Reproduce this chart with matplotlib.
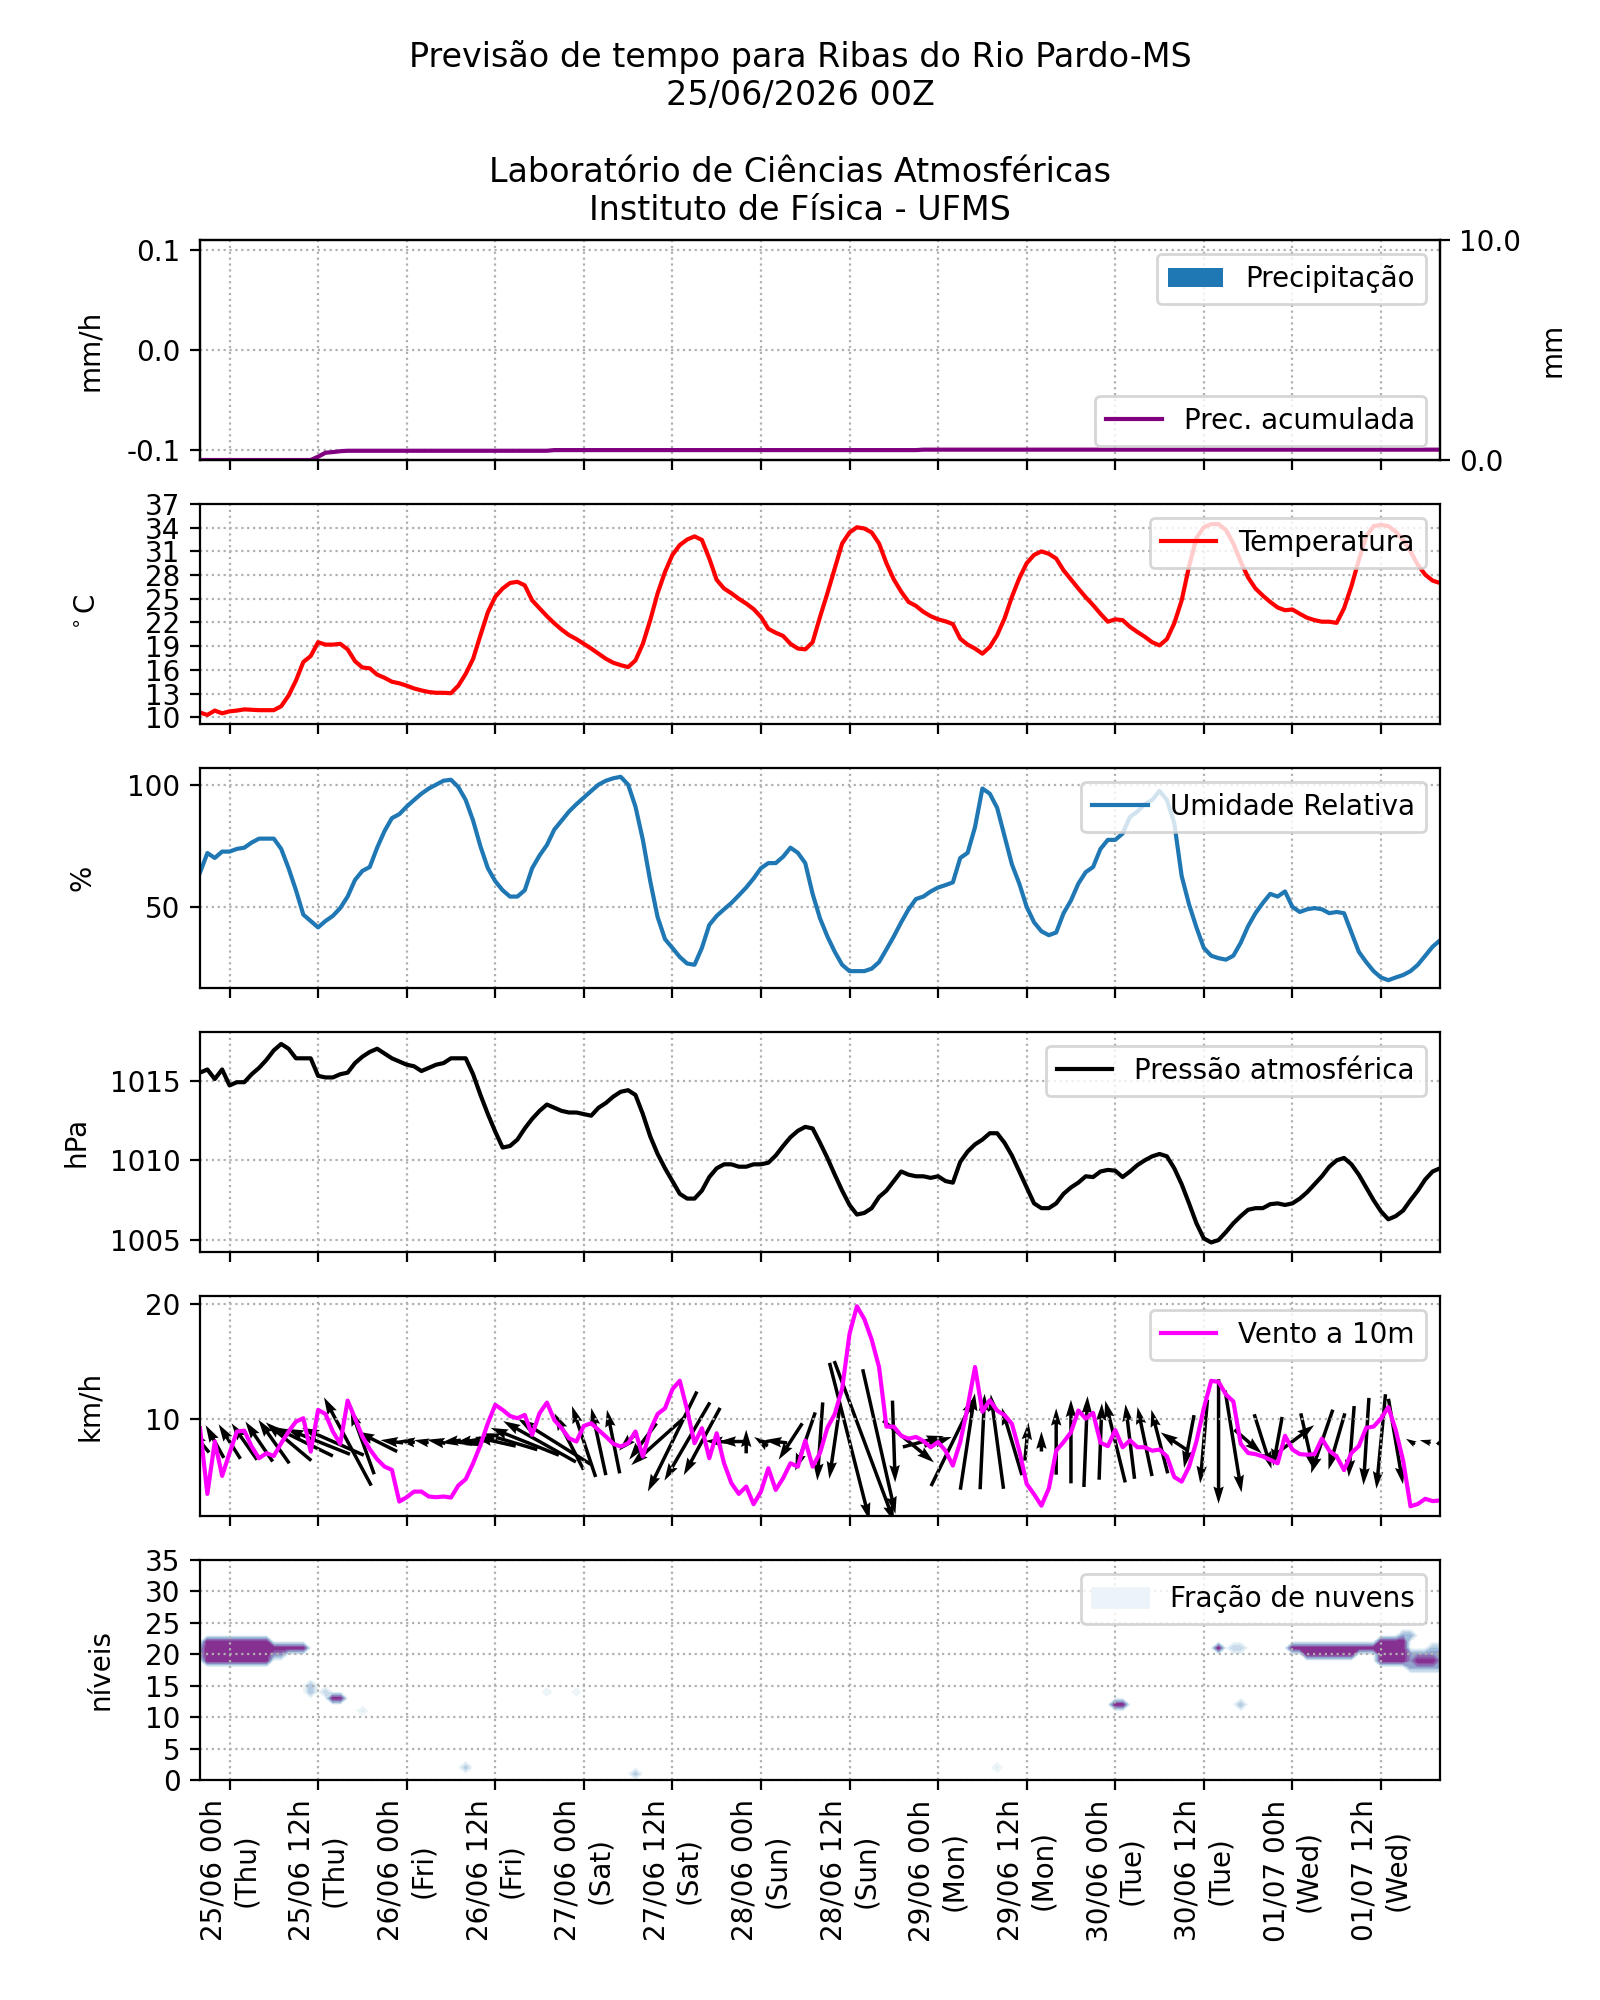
import matplotlib
matplotlib.use("Agg")
import matplotlib.pyplot as plt
import matplotlib.dates as mdates
from matplotlib.patches import Patch
import numpy as np
from datetime import datetime, timedelta

plt.rcParams['axes.unicode_minus'] = False

# ---------------- data (hourly, from 24/06 20h local) ----------------
start = datetime(2026, 6, 24, 20)
n_hours = 169

temperatura = [
    10.6, 10.3, 10.85, 10.5, 10.75, 10.85, 11.0, 10.95, 10.9, 10.9,
    10.9, 11.4, 12.75, 14.65, 17.0, 17.75, 19.5, 19.2, 19.2, 19.3,
    18.6, 17.1, 16.3, 16.2, 15.4, 15.0, 14.5, 14.3, 14.0, 13.65,
    13.4, 13.2, 13.1, 13.1, 13.05, 14.0, 15.5, 17.4, 20.4, 23.3,
    25.25, 26.3, 27.0, 27.15, 26.7, 24.8, 23.8, 22.8, 21.9, 21.1,
    20.4, 19.9, 19.3, 18.7, 18.05, 17.4, 16.9, 16.6, 16.35, 17.2,
    19.3, 22.3, 25.7, 28.4, 30.55, 31.8, 32.5, 32.9, 32.45, 30.1,
    27.4, 26.3, 25.7, 25.0, 24.4, 23.7, 22.7, 21.2, 20.7, 20.3,
    19.3, 18.7, 18.6, 19.5, 22.7, 25.7, 28.85, 32.0, 33.4, 34.05,
    33.9, 33.4, 32.0, 29.5, 27.45, 25.9, 24.6, 24.1, 23.35, 22.8,
    22.4, 22.15, 21.8, 19.95, 19.2, 18.7, 18.05, 18.9, 20.4, 22.5,
    25.25, 27.6, 29.5, 30.55, 31.0, 30.7, 30.1, 28.6, 27.45, 26.3,
    25.2, 24.2, 23.1, 22.1, 22.4, 22.3, 21.45, 20.8, 20.2, 19.5,
    19.1, 19.9, 21.9, 24.8, 29.1, 32.7, 34.05, 34.45, 34.45, 33.7,
    32.0, 29.7, 27.7, 26.3, 25.4, 24.6, 23.9, 23.55, 23.65, 23.1,
    22.6, 22.3, 22.1, 22.1, 21.95, 23.8, 26.6, 29.9, 32.9, 34.2,
    34.35, 34.2, 33.5, 32.45, 31.0, 29.3, 28.05, 27.3, 27.0]

umidade = [
    64, 72, 70, 72.6, 72.6, 73.7, 74.2, 76.3, 77.9, 77.9,
    77.9, 73.7, 65.8, 56.8, 46.8, 44.2, 41.6, 44.2, 46.3, 49.5,
    54.2, 61, 64.7, 66.3, 74.2, 81, 86.3, 87.9, 91, 93.7,
    96.3, 98.4, 100, 101.6, 102, 99, 93.7, 85.3, 74.7, 65.8,
    60.5, 56.8, 54.2, 54.2, 56.8, 65.8, 71, 75.3, 81.6, 85.3,
    89, 92, 94.7, 97.4, 100, 101.6, 102.6, 103.2, 100, 91,
    77.4, 60.5, 45.8, 36.8, 33.2, 29.5, 26.8, 26.3, 33.2, 42.6,
    46.3, 49, 51.6, 54.7, 57.9, 61.6, 65.8, 67.9, 67.9, 70.5,
    74.2, 72.1, 67.9, 55.3, 45.3, 37.9, 31.6, 26.3, 23.7, 23.7,
    23.7, 24.7, 27.4, 32.6, 37.9, 43.7, 49, 53.2, 54.2, 56.3,
    57.9, 58.9, 60, 70, 72.1, 82.6, 98.4, 96.3, 90.5, 79,
    67.4, 59.5, 50, 43.7, 40, 38.4, 39.5, 47.4, 52.6, 59.5,
    64.2, 66.3, 73.7, 77.4, 77.4, 80, 86.8, 89, 92, 93.7,
    97.4, 93.7, 84.2, 62.6, 51, 41.6, 33.2, 30, 29, 28.4,
    30, 35.3, 42.1, 47.4, 51.6, 55.3, 54.2, 56.3, 50, 47.9,
    49, 49.5, 49, 47.4, 47.9, 47.4, 39.5, 31.6, 27.4, 23.7,
    21.1, 20, 21.1, 22.1, 23.7, 26.3, 30, 33.7, 36.3]

pressao = [
    1015.5, 1015.7, 1015.1, 1015.7, 1014.7, 1014.9, 1014.9, 1015.4, 1015.8, 1016.3,
    1016.9, 1017.3, 1017.0, 1016.4, 1016.4, 1016.4, 1015.3, 1015.2, 1015.2, 1015.4,
    1015.5, 1016.1, 1016.5, 1016.8, 1017.0, 1016.7, 1016.4, 1016.2, 1016.0, 1015.9,
    1015.6, 1015.8, 1016.0, 1016.1, 1016.4, 1016.4, 1016.4, 1015.4, 1014.1, 1012.9,
    1011.8, 1010.8, 1010.9, 1011.3, 1012.0, 1012.6, 1013.1, 1013.5, 1013.3, 1013.1,
    1013.0, 1013.0, 1012.9, 1012.8, 1013.3, 1013.6, 1014.0, 1014.3, 1014.4, 1014.1,
    1012.9, 1011.5, 1010.4, 1009.5, 1008.7, 1007.9, 1007.6, 1007.6, 1008.1, 1008.95,
    1009.5, 1009.75, 1009.75, 1009.6, 1009.6, 1009.75, 1009.75, 1009.85, 1010.3, 1010.9,
    1011.45, 1011.85, 1012.1, 1012.0, 1011.1, 1010.15, 1009.1, 1008.1, 1007.2, 1006.6,
    1006.7, 1007.0, 1007.7, 1008.1, 1008.7, 1009.3, 1009.1, 1009.0, 1009.0, 1008.9,
    1009.0, 1008.7, 1008.6, 1009.9, 1010.55, 1011.0, 1011.3, 1011.7, 1011.7, 1011.1,
    1010.3, 1009.3, 1008.3, 1007.3, 1007.0, 1007.0, 1007.3, 1007.9, 1008.3, 1008.6,
    1009.0, 1008.95, 1009.3, 1009.4, 1009.35, 1008.95, 1009.3, 1009.7, 1010.0, 1010.25,
    1010.4, 1010.25, 1009.5, 1008.5, 1007.3, 1006.05, 1005.1, 1004.85, 1005.0, 1005.5,
    1006.05, 1006.5, 1006.9, 1007.0, 1007.0, 1007.25, 1007.3, 1007.2, 1007.3, 1007.6,
    1008.0, 1008.5, 1009.0, 1009.6, 1010.0, 1010.15, 1009.75, 1009.1, 1008.3, 1007.5,
    1006.8, 1006.3, 1006.5, 1006.85, 1007.5, 1008.1, 1008.8, 1009.3, 1009.5]

vento = [
    9.16, 3.43, 8.0, 5.0, 7.0, 8.87, 8.95, 7.56, 6.54, 6.98,
    6.74, 7.85, 8.87, 9.74, 10.03, 7.12, 10.76, 10.4, 8.87, 7.8,
    11.57, 10.03, 8.43, 7.33, 6.45, 5.81, 5.52, 2.76, 3.14, 3.63,
    3.63, 3.2, 3.14, 3.2, 3.11, 4.16, 4.71, 6.1, 7.7, 9.6,
    11.2, 10.76, 10.23, 10.03, 10.32, 8.58, 10.47, 11.4, 9.88, 9.16,
    8.28, 8.0, 9.36, 9.6, 9.0, 8.43, 7.8, 7.56, 7.85, 8.87,
    6.69, 9.0, 10.4, 10.9, 12.56, 13.3, 10.76, 7.85, 9.16, 6.54,
    8.72, 6.1, 4.36, 3.43, 4.07, 2.53, 3.63, 5.67, 3.78, 4.8,
    6.1, 5.81, 8.08, 5.81, 7.0, 9.2, 10.4, 12.6, 17.4, 19.8,
    18.7, 16.9, 14.5, 9.3, 9.3, 8.5, 8.25, 8.4, 8.05, 7.5,
    7.95, 7.2, 5.9, 7.95, 11.0, 14.5, 10.6, 11.6, 10.7, 10.3,
    9.55, 7.2, 4.3, 3.4, 2.4, 3.9, 7.2, 7.95, 8.8, 10.7,
    10.0, 10.5, 7.9, 7.6, 9.0, 7.5, 8.1, 7.5, 7.5, 7.2,
    7.3, 6.7, 4.9, 4.5, 5.8, 8.0, 10.9, 13.3, 13.2, 12.1,
    11.5, 7.8, 7.0, 6.9, 6.7, 6.4, 6.1, 8.5, 7.3, 6.9,
    6.85, 6.9, 8.25, 7.2, 6.7, 5.5, 7.0, 7.6, 9.2, 9.3,
    10.0, 11.0, 9.0, 6.35, 2.35, 2.55, 3.0, 2.8, 2.85]

# wind vectors every 2 hours (u, v)
u_vento = [
    -2.0, -2.0, -2.4, -2.8, -3.0, -3.4, -5.0, -6.5, -7.0, -6.8,
    -5.2, -2.6, -4.4, -2.5, -1.8, -1.6, -2.0, -2.2, -2.5, -3.5,
    -4.5, -6.0, -7.5, -8.0, -8.0, -3.2, -2.6, -1.6, -1.4, -2.0,
    -3.0, -5.8, -5.4, -5.0, -4.0, -2.5, -2.8, 0.0, -1.5, -2.5,
    -2.6, -2.2, -0.6, -1.2, 4.4, 6.6, 3.6, 0.3, 5.6, 4.5,
    3.0, 4.8, 1.6, 0.5, -1.4, -2.2, 0.4, 0.0, 0.0, 0.0,
    0.4, 0.3, -2.2, -1.0, -1.6, -1.8, -3.0, -1.1, -0.8, 0.0,
    1.8, 3.0, 1.9, -1.0, 4.8, 1.4, -2.4, -1.8, -0.6, -0.6,
    -1.0, 1.6, -1.0, -1.2, 0.5]
v_vento = [
    2.4, 3.6, 3.8, 4.0, 4.4, 4.8, 4.2, 3.2, 2.8, 3.0,
    9.7, 7.2, 2.2, 0.3, 0.2, 0.3, 0.4, -0.3, -0.4, -0.8,
    1.0, 1.8, 3.0, 4.5, 5.0, 6.2, 7.8, 7.4, 7.0, -2.0,
    -4.0, -5.2, -11.0, -8.6, -7.4, 0.1, 0.0, 2.6, 1.0, 0.3,
    -4.0, -6.4, -8.6, -8.2, -17.3, -17.7, -15.9, -9.0, -4.6, 1.2,
    1.0, 9.8, 10.6, 10.5, 10.4, 7.4, 4.2, 2.2, 7.3, 9.2,
    10.0, 8.4, 9.0, 8.2, 7.6, 7.0, 2.0, -5.8, -9.2, -13.7,
    -11.2, -2.6, -6.0, -5.4, 3.6, -6.2, -7.0, -6.2, -7.8, -9.6,
    -10.4, -9.4, 0.6, 0.3, 0.8]
nivel_setas = 8.0

precipitacao = [0.0] * n_hours
prec_acumulada = ([0.0] * 16 + [0.15, 0.33, 0.36, 0.40] + [0.42] * 28
                  + [0.45] * 50 + [0.47] * 71)

# cloud fraction blobs: (hour start, hour end, level start, level end, fraction)
nuvens_blocos = [
    (1, 9, 19, 22, 1.0), (0, 0, 20, 21, 0.5), (9, 14, 21, 21, 1.0),
    (10, 11, 20, 20, 0.6), (15, 15, 14, 15, 0.4), (17, 17, 14, 14, 0.3),
    (18, 19, 13, 13, 1.0), (22, 22, 11, 11, 0.12), (36, 36, 2, 2, 0.35),
    (47, 47, 14, 14, 0.08), (51, 51, 14, 14, 0.08), (59, 59, 1, 1, 0.35),
    (108, 108, 2, 2, 0.12), (124, 125, 12, 12, 1.0), (138, 138, 21, 21, 1.0),
    (140, 141, 21, 21, 0.3), (141, 141, 12, 12, 0.4), (148, 160, 21, 21, 1.0),
    (150, 156, 20, 20, 1.0), (160, 163, 19, 22, 1.0), (163, 164, 23, 23, 0.5),
    (164, 168, 18, 20, 0.6), (165, 167, 19, 19, 1.0), (167, 168, 21, 21, 0.4)]
niveis = np.arange(0, 36)
niveis_contorno = [0.03, 0.1, 0.2, 0.3, 0.4, 0.5, 0.6, 0.7, 0.8, 0.9, 1.0]

# ---------------- figure ----------------
times = [start + timedelta(hours=i) for i in range(n_hours)]
x = mdates.date2num(times)
x_setas = x[::2]
tick_times = [datetime(2026, 6, 25) + timedelta(hours=12 * i) for i in range(14)]
tick_labels = [t.strftime('%d/%m %Hh\n(%a)') for t in tick_times]

cloud = np.zeros((len(niveis), n_hours))
for h0, h1, l0, l1, f in nuvens_blocos:
    cloud[l0:l1 + 1, h0:h1 + 1] = np.maximum(cloud[l0:l1 + 1, h0:h1 + 1], f)

fig, axs = plt.subplots(6, 1, figsize=(8, 10), dpi=200, sharex=True)
fig.suptitle("Previsão de tempo para Ribas do Rio Pardo-MS\n25/06/2026 00Z\n\n"
             "Laboratório de Ciências Atmosféricas\nInstituto de Física - UFMS")

# precipitation
ax = axs[0]
ax.bar(x, precipitacao, width=1 / 24, color='C0', label='Precipitação')
ax.set_ylim(-0.11, 0.11)
ax.set_yticks([-0.1, 0.0, 0.1])
ax.yaxis.set_major_formatter(plt.FormatStrFormatter('%.1f'))
ax.set_ylabel('mm/h', labelpad=8)
ax.legend(loc='upper right')
ax2 = ax.twinx()
ax2.plot(x, prec_acumulada, color='purple', label='Prec. acumulada')
ax2.set_ylim(0, 10)
ax2.set_yticks([0, 10])
ax2.yaxis.set_major_formatter(plt.FormatStrFormatter('%.1f'))
ax2.set_ylabel('mm', labelpad=6)
ax2.legend(loc='lower right')

# temperature
ax = axs[1]
ax.plot(x, temperatura, color='red', label='Temperatura')
ax.set_yticks(np.arange(10, 38, 3))
ax.set_ylim(9.15, 37)
ax.set_ylabel(r'$^\circ$C', labelpad=16)
ax.legend(loc='upper right')

# humidity
ax = axs[2]
ax.plot(x, umidade, color='C0', label='Umidade Relativa')
ax.set_yticks([50, 100])
ax.set_ylim(16.8, 106.8)
ax.set_ylabel('%', labelpad=11)
ax.legend(loc='upper right')

# pressure
ax = axs[3]
ax.plot(x, pressao, color='black', label='Pressão atmosférica')
ax.set_yticks([1005, 1010, 1015])
ax.set_ylim(1004.25, 1018.05)
ax.set_ylabel('hPa', labelpad=7)
ax.legend(loc='upper right')

# wind
ax = axs[4]
ax.plot(x, vento, color='magenta', label='Vento a 10m')
ax.quiver(x_setas, np.full(len(x_setas), nivel_setas), u_vento, v_vento,
          pivot='middle', scale_units='inches', scale=22, width=0.0028,
          color='black')
ax.set_yticks([10, 20])
ax.set_ylim(1.5, 20.7)
ax.set_ylabel('km/h', labelpad=15)
ax.legend(loc='upper right')

# clouds
ax = axs[5]
ax.contourf(x, niveis, cloud, levels=niveis_contorno, cmap='BuPu', vmin=0, vmax=1.2)
ax.set_ylim(0, 35)
ax.set_yticks(np.arange(0, 36, 5))
ax.set_ylabel('níveis', labelpad=11)
ax.legend(handles=[Patch(color=plt.get_cmap('BuPu')(0.06), label='Fração de nuvens')],
          loc='upper right')

for ax in axs:
    ax.grid(linestyle=':')
    ax.set_xlim(x[0], x[-1])
axs[-1].set_xticks(mdates.date2num(tick_times))
axs[-1].set_xticklabels(tick_labels, rotation=90)

fig.savefig('out.png')
